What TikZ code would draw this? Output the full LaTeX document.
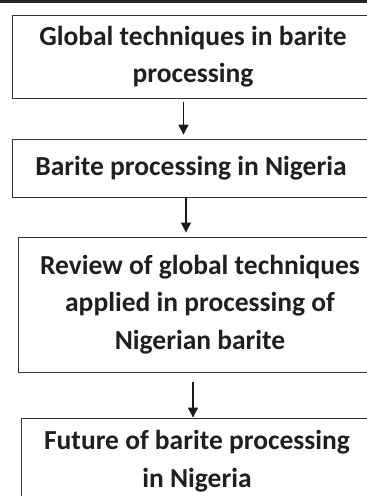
\documentclass[tikz,border=0pt]{standalone}
\usepackage{fontspec}
\setmainfont{Carlito}
\usepackage{tikz}
\usetikzlibrary{positioning, arrows.meta}

\tikzset{
  stagebox/.style={draw=black!80, line width=0.9pt, align=center, inner sep=0pt,
    font=\fontsize{27.5}{37.5}\selectfont\bfseries, text=black!88},
  flowarrow/.style={draw=black!90, line width=1.3pt, -{Triangle[length=10pt,width=10pt]}}
}

\begin{document}
\begin{tikzpicture}[x=1pt, y=-1pt]
    \useasboundingbox (0,0) rectangle (367,496);        % page size
    \clip (0,0) rectangle (367,496);                    % boxes run off the right edge
    \draw [black!85, line width=2.8pt] (0,1.4) -- (367,1.4);   % rule at the top
    \node [stagebox, minimum width=362pt, minimum height=83pt] (global) at (193,56.5)
        {Global techniques in barite\\processing};      % first stage
    \node [stagebox, minimum width=358pt, minimum height=58pt] (nigeria) at (191,168)
        {Barite processing in Nigeria};                 % second stage
    \node [stagebox, minimum width=364pt, minimum height=135pt] (review) at (200,304.5)
        {Review of global techniques\\applied in processing of\\Nigerian barite}; % third stage
    \node [stagebox, minimum width=352pt, minimum height=86pt] (future) at (197,461)
        {Future of barite processing\\in Nigeria};      % last stage
    \draw [flowarrow, shorten <=4pt, shorten >=4pt] ([xshift=-9.5pt]global.south) -- ([xshift=-9.5pt]global.south |- nigeria.north);
    \draw [flowarrow, shorten >=4pt] ([xshift=-5pt]nigeria.south) -- ([xshift=-5pt]nigeria.south |- review.north);
    \draw [flowarrow] ([xshift=-7pt,yshift=-10pt]review.south) -- ([xshift=-7pt]review.south |- future.north);
\end{tikzpicture}
\end{document}
